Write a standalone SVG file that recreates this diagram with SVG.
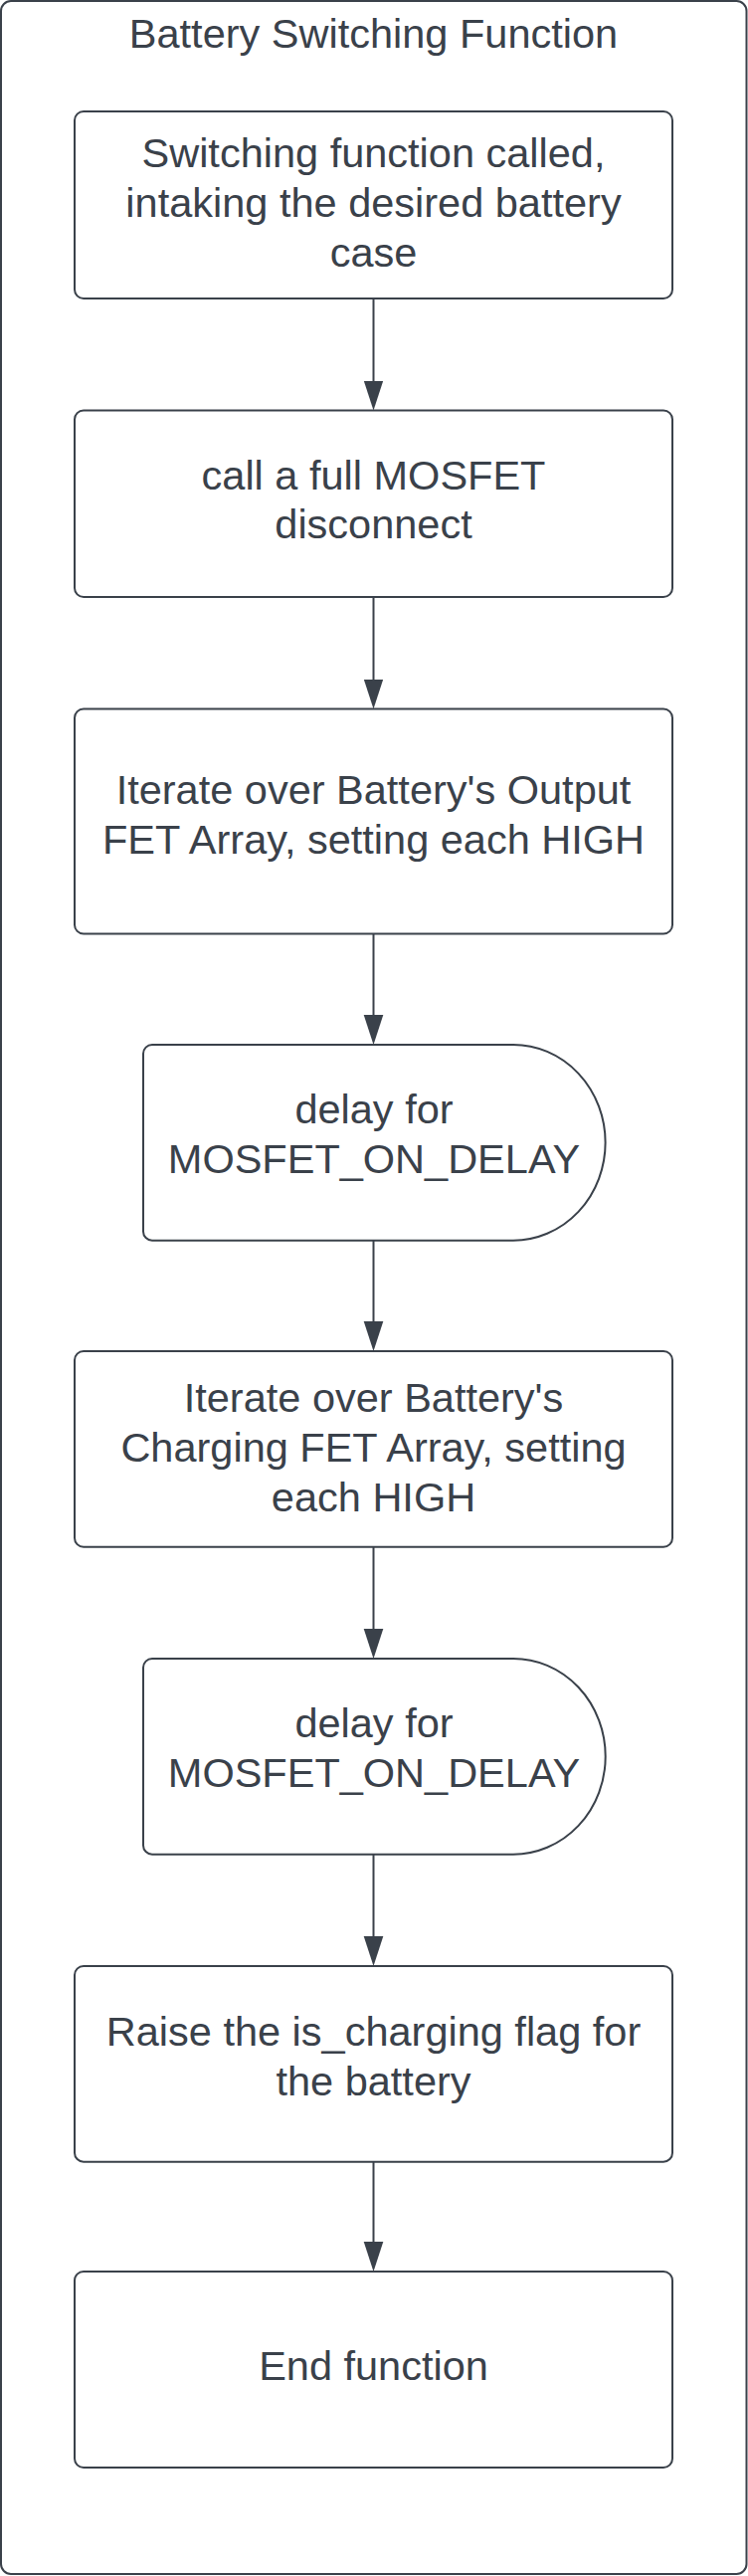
<svg xmlns="http://www.w3.org/2000/svg" width="752" height="2589" viewBox="0 0 752 2589">
<style>
  .frame { fill: #ffffff; stroke: #3a414a; stroke-width: 2; }
  .node { fill: #ffffff; stroke: #3a414a; stroke-width: 2; }
  .txt { font-family: "Liberation Sans", Arial, sans-serif; font-size: 41.5px; fill: #3a414a; text-anchor: middle; }
  .conn { stroke: #3a414a; stroke-width: 2; fill: none; }
</style>
<defs>
  <marker id="arrow" markerUnits="userSpaceOnUse" viewBox="0 -11 31 22" markerWidth="31" markerHeight="22" refX="19" refY="0" orient="auto">
    <path d="M0,-9.8 L30,0 L0,9.8 Z" fill="#3a414a"/>
  </marker>
</defs>
<rect width="752" height="2589" fill="#ffffff"/>
<g id="frame">
  <rect class="frame" x="1" y="1" width="749.5" height="2586" rx="10" ry="10"/>
  <text class="txt" x="375.5" y="48">Battery Switching Function</text>
</g>
<g id="n1">
  <rect class="node" x="75" y="112" width="601" height="188" rx="9" ry="9"/>
  <text class="txt" x="375.5" y="168">Switching function called,</text>
  <text class="txt" x="375.5" y="218">intaking the desired battery</text>
  <text class="txt" x="375.5" y="268">case</text>
</g>
<g id="n2">
  <rect class="node" x="75" y="412.5" width="601" height="187.5" rx="9" ry="9"/>
  <text class="txt" x="375.5" y="491.5">call a full MOSFET</text>
  <text class="txt" x="375.5" y="541">disconnect</text>
</g>
<g id="n3">
  <rect class="node" x="75" y="712.5" width="601" height="226" rx="9" ry="9"/>
  <text class="txt" x="375.5" y="807.5">Iterate over Battery's Output</text>
  <text class="txt" x="375.5" y="857.5">FET Array, setting each HIGH</text>
</g>
<g id="n4">
  <path class="node" d="M153,1050 H516 A92.7 98.35 0 0 1 516,1246.7 H153 A9 9 0 0 1 144,1237.7 V1059 A9 9 0 0 1 153,1050 Z"/>
  <text class="txt" x="376" y="1129">delay for</text>
  <text class="txt" x="376" y="1179">MOSFET_ON_DELAY</text>
</g>
<g id="n5">
  <rect class="node" x="75" y="1358" width="601" height="196.8" rx="9" ry="9"/>
  <text class="txt" x="375.5" y="1419">Iterate over Battery's</text>
  <text class="txt" x="375.5" y="1469">Charging FET Array, setting</text>
  <text class="txt" x="375.5" y="1519">each HIGH</text>
</g>
<g id="n6">
  <path class="node" d="M153,1667 H516 A92.7 98.35 0 0 1 516,1863.7 H153 A9 9 0 0 1 144,1854.7 V1676 A9 9 0 0 1 153,1667 Z"/>
  <text class="txt" x="376" y="1746">delay for</text>
  <text class="txt" x="376" y="1796">MOSFET_ON_DELAY</text>
</g>
<g id="n7">
  <rect class="node" x="75" y="1976" width="601" height="196.7" rx="9" ry="9"/>
  <text class="txt" x="375.5" y="2056">Raise the is_charging flag for</text>
  <text class="txt" x="375.5" y="2106">the battery</text>
</g>
<g id="n8">
  <rect class="node" x="75" y="2283" width="601" height="197" rx="9" ry="9"/>
  <text class="txt" x="375.5" y="2391.5">End function</text>
</g>
<g id="connectors">
  <line class="conn" x1="375.5" y1="300" x2="375.5" y2="401.5" marker-end="url(#arrow)"/>
  <line class="conn" x1="375.5" y1="600" x2="375.5" y2="701.5" marker-end="url(#arrow)"/>
  <line class="conn" x1="375.5" y1="938.5" x2="375.5" y2="1039" marker-end="url(#arrow)"/>
  <line class="conn" x1="375.5" y1="1246.7" x2="375.5" y2="1347" marker-end="url(#arrow)"/>
  <line class="conn" x1="375.5" y1="1554.8" x2="375.5" y2="1656" marker-end="url(#arrow)"/>
  <line class="conn" x1="375.5" y1="1863.7" x2="375.5" y2="1965" marker-end="url(#arrow)"/>
  <line class="conn" x1="375.5" y1="2172.7" x2="375.5" y2="2272" marker-end="url(#arrow)"/>
</g>
</svg>
